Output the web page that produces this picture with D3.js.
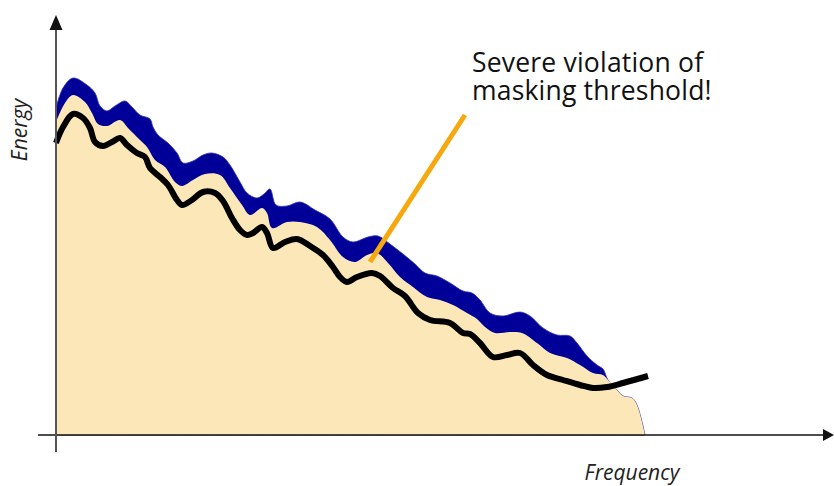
<!DOCTYPE html>
<html>
<head>
<meta charset="utf-8">
<script src="https://cdn.jsdelivr.net/npm/d3@7"></script>
<style>
  html, body { margin: 0; padding: 0; background: #ffffff; }
  svg { display: block; }
</style>
</head>
<body>
<div id="chart"></div>
<script>
// Values: [frequency, energy], arbitrary units

// top of the quantisation noise (blue band)
const noiseTop = [
  [0, 81.75], [1.4, 86.75], [3.4, 89.25], [6.2, 87.5], [7.8, 85.5], [8.8, 82.25], [10.2, 81],
  [11.8, 82.25], [13.8, 83.5], [15.2, 82], [16.8, 80], [18.8, 79], [19.4, 77],
  [20.4, 75], [22.4, 73], [24.2, 70.5], [25.4, 68], [27.4, 68.5], [29.4, 70],
  [31.2, 70.5], [33.4, 69.5], [34.8, 67.5], [36.8, 63.25], [38.2, 60.5], [40.2, 59.25],
  [41.6, 60.25], [42.8, 61.5], [44, 57.5], [46.2, 57.25], [48.8, 58.25], [51.8, 56.25], [54.8, 54],
  [57.4, 49.5], [59.4, 48.25], [62.4, 49.5], [64.4, 49.75], [66.8, 47.75], [69.4, 45.25],
  [71.8, 42.75], [73.8, 40.5], [76.2, 39.75], [78.8, 38], [81.4, 36], [83.2, 35.5],
  [84.8, 33.75], [86.8, 30.5], [89.4, 29.75], [92.8, 30.75], [94.8, 29.75], [97.4, 26.75], [100.2, 25],
  [102.8, 24.75], [104.2, 23], [106.2, 19.75], [108.2, 17.5], [109.4, 16.5], [110.4, 13.75],
  [112.2, 11.25], [113.4, 9.75], [115.2, 9.25], [116.2, 7.5], [117.8, 0]
];

// signal spectrum (beige)
const signal = [
  [0, 78.25], [1.8, 83], [3.4, 85], [5.8, 83.25], [7.2, 80.5], [8.4, 77.75], [10.2, 77.25],
  [12.8, 78.75], [14.4, 76.75], [16.8, 73.75], [18.2, 72], [19.8, 68.75], [21.8, 67],
  [23.8, 63.25], [25.2, 62.25], [27.4, 63.75], [29.8, 65.25], [32.8, 65], [34.8, 61.75],
  [37.2, 57.5], [38.8, 55], [41.2, 56.75], [42.2, 55.5], [43.2, 51.75], [46.2, 53.25],
  [48.8, 53.25], [52.2, 52], [54.8, 48.75], [57.4, 44.5], [59.8, 43.25], [62.2, 45],
  [64.2, 45.5], [66.4, 43], [68.8, 39.5], [71.4, 37], [74.2, 34.5], [76.8, 33.75],
  [79.4, 32.5], [82.2, 30.5], [84.2, 29], [85.8, 27], [87.8, 25.5], [90.8, 25.75],
  [93.2, 25.5], [96.2, 23], [98.8, 20.5], [102.2, 19.25], [104.8, 17.5], [107.4, 15.5],
  [109.4, 15], [110.4, 13.75], [112.2, 11.25], [113.4, 9.75], [115.2, 9.25], [116.2, 7.5],
  [117.8, 0]
];

// masking threshold (black)
const threshold = [
  [0, 73], [1.4, 77], [3.4, 80.25], [5.4, 79.25], [6.8, 76.75], [7.8, 73.25], [9.4, 72.25],
  [11.2, 73.25], [12.8, 74.25], [14.2, 72.5], [16.2, 70.5], [17.8, 69.5], [18.8, 66.75],
  [20.8, 64.5], [22.4, 62.5], [24.2, 58.75], [25.2, 57.5], [27.2, 58.75], [29.4, 60.75],
  [31.8, 60.5], [33.4, 58.5], [35.2, 54.25], [36.8, 51.25], [38.2, 50], [39.4, 50.5],
  [41.2, 52], [42.2, 50.5], [43.4, 46.75], [45.8, 48.25], [48.2, 49], [50.8, 47.25],
  [53.4, 45], [55.4, 42], [56.8, 39.5], [58.2, 38.25], [60.2, 39.5], [63.2, 40.5],
  [64.8, 39.75], [67.4, 36.75], [69.8, 34.75], [72.4, 30.5], [74.8, 28.75], [78.8, 28],
  [81.4, 25.5], [82.8, 25.25], [84.8, 23], [87.4, 19.5], [90.2, 20], [92.8, 20.5],
  [95.4, 17.5], [98.2, 15], [101.4, 13.75], [104.8, 12.5], [107.4, 11.75], [110.2, 12],
  [113.4, 13], [118.4, 14.75]
];

// annotation pointer: from the violation to the label
const pointer = [[62.8, 43.25], [81.8, 80]];
const labelLines = ['Severe violation of', 'masking threshold!'];

const width = 834, height = 486;

const x = d3.scaleLinear().domain([0, 120]).range([56, 656]);
const y = d3.scaleLinear().domain([0, 100]).range([435, 35]);

const svg = d3.select('#chart')
  .append('svg')
  .attr('width', width)
  .attr('height', height);

const area = (data) => d3.area()
  .x(d => x(d[0]))
  .y0(y(0))
  .y1(d => y(d[1]))
  .curve(d3.curveCatmullRom.alpha(0.5))(data);

// blue noise band drawn first, signal on top of it
svg.append('path')
  .attr('d', area(noiseTop))
  .attr('fill', '#000099')
  .attr('stroke', '#3030b0')
  .attr('stroke-width', 0.8);

svg.append('path')
  .attr('d', area(signal))
  .attr('fill', '#fce7b8');

// masking threshold
svg.append('path')
  .attr('d', d3.line()
    .x(d => x(d[0]))
    .y(d => y(d[1]))
    .curve(d3.curveCatmullRom.alpha(0.5))(threshold))
  .attr('fill', 'none')
  .attr('stroke', '#000')
  .attr('stroke-width', 6)
  .attr('stroke-linejoin', 'round');

// axes
svg.append('line')
  .attr('x1', 38).attr('y1', y(0))
  .attr('x2', 823).attr('y2', y(0))
  .attr('stroke', '#111')
  .attr('stroke-width', 1.3);
svg.append('path')
  .attr('d', `M834,${y(0)} L823,${y(0) - 6} L823,${y(0) + 6} Z`)
  .attr('fill', '#111');

svg.append('line')
  .attr('x1', x(0)).attr('y1', 452)
  .attr('x2', x(0)).attr('y2', 30)
  .attr('stroke', '#555')
  .attr('stroke-width', 2);
svg.append('path')
  .attr('d', `M${x(0)},15 L${x(0) - 6.5},30 L${x(0) + 6.5},30 Z`)
  .attr('fill', '#111');

// annotation line
svg.append('line')
  .attr('x1', x(pointer[0][0])).attr('y1', y(pointer[0][1]))
  .attr('x2', x(pointer[1][0])).attr('y2', y(pointer[1][1]))
  .attr('stroke', '#f6a90f')
  .attr('stroke-width', 5);

svg.selectAll('text.label')
  .data(labelLines)
  .enter()
  .append('text')
  .attr('class', 'label')
  .attr('x', 472)
  .attr('y', (d, i) => 72 + i * 28)
  .style('font-family', '"Open Sans", sans-serif')
  .style('font-size', '26.5px')
  .style('letter-spacing', '0.2px')
  .style('fill', '#111')
  .text(d => d);

// axis titles
svg.append('text')
  .attr('transform', 'translate(27,130) rotate(-90)')
  .attr('text-anchor', 'middle')
  .style('font-family', '"Open Sans", sans-serif')
  .style('font-style', 'italic')
  .style('font-size', '21px')
  .style('fill', '#222')
  .text('Energy');

svg.append('text')
  .attr('x', 632)
  .attr('y', 480)
  .attr('text-anchor', 'middle')
  .style('font-family', '"Open Sans", sans-serif')
  .style('font-style', 'italic')
  .style('font-size', '21px')
  .style('fill', '#222')
  .text('Frequency');
</script>
</body>
</html>
